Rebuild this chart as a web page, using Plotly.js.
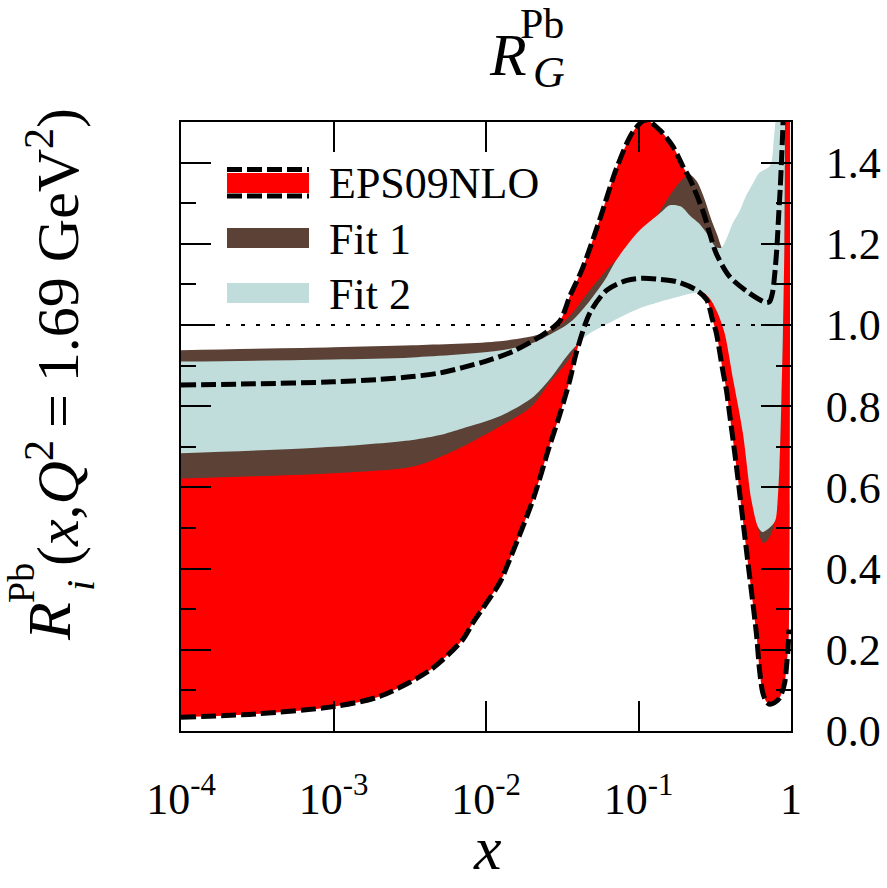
<!DOCTYPE html>
<html>
<head>
<meta charset="utf-8">
<script src="https://cdn.plot.ly/plotly-3.0.1.min.js"></script>
<style>html,body{margin:0;padding:0;background:#fff;}#chart{width:887px;height:888px;}</style>
</head>
<body>
<div id="chart"></div>
<script>
// ---- EPS09NLO uncertainty band (upper / lower edges) ----
const epsUpX = [1e-4, 3e-4, 1e-3, 2e-3, 3.3e-3, 5e-3, 7e-3, 0.0106, 0.015, 0.0225, 0.0305, 0.0354, 0.043, 0.0557, 0.0716, 0.0916, 0.111, 0.138, 0.168, 0.196, 0.217, 0.265, 0.323, 0.396, 0.536, 0.689, 0.725, 0.757, 0.78, 0.809, 0.83, 0.851, 0.87, 0.885, 0.92, 0.97];
const epsUpY = [0.852, 0.855, 0.86, 0.866, 0.873, 0.882, 0.895, 0.914, 0.935, 0.971, 1.01, 1.07, 1.14, 1.26, 1.385, 1.475, 1.505, 1.48, 1.44, 1.39, 1.36, 1.28, 1.177, 1.119, 1.078, 1.055, 1.058, 1.08, 1.12, 1.193, 1.27, 1.34, 1.42, 1.49, 1.75, 2.1];
const epsLoX = [1e-4, 3.1e-4, 1e-3, 2e-3, 4.3e-3, 7e-3, 0.0082, 0.0123, 0.0137, 0.0203, 0.026, 0.0305, 0.0355, 0.039, 0.048, 0.062, 0.084, 0.106, 0.132, 0.177, 0.24, 0.28, 0.306, 0.324, 0.356, 0.377, 0.396, 0.439, 0.51, 0.593, 0.622, 0.652, 0.69, 0.724, 0.78, 0.841, 0.908, 0.94, 0.955, 0.97];
const epsLoY = [0.034, 0.042, 0.06, 0.085, 0.15, 0.224, 0.266, 0.365, 0.405, 0.569, 0.70, 0.78, 0.865, 0.93, 1.03, 1.086, 1.11, 1.115, 1.113, 1.107, 1.086, 1.062, 1.012, 0.98, 0.89, 0.84, 0.78, 0.651, 0.446, 0.24, 0.15, 0.095, 0.072, 0.066, 0.07, 0.081, 0.118, 0.17, 0.2, 0.25];

// ---- Fit 1 band ----
const fit1UpX = [1e-4, 1e-3, 3.3e-3, 0.0123, 0.0225, 0.0305, 0.037, 0.048, 0.06, 0.0716, 0.1, 0.138, 0.168, 0.196, 0.217, 0.24, 0.265, 0.30, 0.33, 0.349, 0.38, 0.45, 0.55, 0.65, 0.75, 0.82, 0.88, 0.91];
const fit1UpY = [0.938, 0.945, 0.95, 0.96, 0.977, 1.0, 1.03, 1.086, 1.13, 1.16, 1.2, 1.28, 1.33, 1.36, 1.37, 1.355, 1.32, 1.26, 1.22, 1.193, 1.17, 1.18, 1.28, 1.33, 1.36, 1.45, 1.6, 1.8];
const fit1LoX = [1e-4, 1e-3, 3.3e-3, 5e-3, 7e-3, 0.0123, 0.02, 0.026, 0.035, 0.046, 0.07, 0.1, 0.15, 0.2, 0.24, 0.265, 0.30, 0.33, 0.367, 0.42, 0.484, 0.55, 0.6, 0.63, 0.66, 0.70, 0.75, 0.78, 0.80, 0.84, 0.865, 0.885, 0.905, 0.915];
const fit1LoY = [0.622, 0.635, 0.651, 0.675, 0.70, 0.75, 0.80, 0.857, 0.915, 1.0, 1.04, 1.07, 1.09, 1.1, 1.105, 1.1, 1.09, 1.06, 1.0, 0.89, 0.76, 0.59, 0.515, 0.475, 0.463, 0.47, 0.49, 0.52, 0.56, 0.66, 0.83, 0.99, 1.21, 1.6];

// ---- Fit 2 band ----
const fit2UpX = [1e-4, 1e-3, 3.3e-3, 0.0123, 0.02, 0.0305, 0.037, 0.048, 0.06, 0.0716, 0.1, 0.138, 0.16, 0.19, 0.217, 0.25, 0.28, 0.32, 0.349, 0.38, 0.414, 0.46, 0.51, 0.565, 0.62, 0.69, 0.72, 0.745, 0.765, 0.79, 0.82, 0.915];
const fit2UpY = [0.91, 0.915, 0.92, 0.937, 0.955, 0.99, 1.012, 1.06, 1.11, 1.16, 1.23, 1.275, 1.295, 1.292, 1.27, 1.25, 1.226, 1.193, 1.19, 1.215, 1.25, 1.28, 1.32, 1.35, 1.375, 1.385, 1.39, 1.40, 1.44, 1.50, 1.56, 1.8];
const fit2LoX = [1e-4, 1e-3, 3.3e-3, 5e-3, 7e-3, 0.0123, 0.02, 0.026, 0.035, 0.046, 0.068, 0.1, 0.14, 0.18, 0.24, 0.27, 0.30, 0.33, 0.367, 0.42, 0.484, 0.55, 0.607, 0.65, 0.72, 0.78, 0.80, 0.84, 0.865, 0.885, 0.905, 0.915];
const fit2LoY = [0.684, 0.70, 0.717, 0.729, 0.745, 0.775, 0.82, 0.865, 0.93, 0.975, 1.01, 1.04, 1.058, 1.069, 1.08, 1.078, 1.06, 1.03, 0.98, 0.86, 0.733, 0.569, 0.503, 0.49, 0.50, 0.515, 0.528, 0.651, 0.815, 0.98, 1.2, 1.6];

// ---- reference line and ticks ----
const refX = [1e-4, 1];
const refY = [1, 1];
const xTickVals = [1e-4, 1e-3, 1e-2, 1e-1, 1];
const xTickText = ['10<sup>-4</sup>', '10<sup>-3</sup>', '10<sup>-2</sup>', '10<sup>-1</sup>', '1'];
const legendNames = ['EPS09NLO', 'Fit 1', 'Fit 2'];

const RED = '#ff0000', BROWN = '#5c4236', BLUE = '#c0dcdb';
const FONT = '"Liberation Serif", "Times New Roman", Times, serif';

function poly(xu, yu, xl, yl) {
  return { x: xu.concat(xl.slice().reverse()), y: yu.concat(yl.slice().reverse()) };
}
const pE = poly(epsUpX, epsUpY, epsLoX, epsLoY);
const p1 = poly(fit1UpX, fit1UpY, fit1LoX, fit1LoY);
const p2 = poly(fit2UpX, fit2UpY, fit2LoX, fit2LoY);

const band = (p, col, name) => ({
  x: p.x, y: p.y, type: 'scatter', mode: 'lines', fill: 'toself', fillcolor: col,
  line: { width: 0, color: 'rgba(0,0,0,0)', shape: 'spline', smoothing: 0.8 }, name: name, showlegend: false, hoverinfo: 'skip'
});
const dashed = (x, y) => ({
  x: x, y: y, type: 'scatter', mode: 'lines', showlegend: false, hoverinfo: 'skip',
  line: { color: '#000', width: 5, dash: '15px,5px', shape: 'spline', smoothing: 0.8 }
});

const data = [
  band(pE, RED, legendNames[0]),
  band(p1, BROWN, legendNames[1]),
  band(p2, BLUE, legendNames[2]),
  dashed(epsUpX, epsUpY),
  dashed(epsLoX, epsLoY),
  { x: refX, y: refY, type: 'scatter', mode: 'lines', showlegend: false, hoverinfo: 'skip',
    line: { color: '#000', width: 1.8, dash: '4px,11px' } }
];

// pixel helpers for annotation / legend placement in paper coords
const L = 181, T = 122, W = 610, H = 609;
const px = v => (v - L) / W;
const py = v => (T + H - v) / H;

const ann = (x, y, text, size, extra) => Object.assign({
  xref: 'paper', yref: 'paper', x: px(x), y: py(y), text: text, showarrow: false,
  xanchor: 'center', yanchor: 'middle', font: { family: FONT, size: size, color: '#000' }
}, extra || {});

const annotations = [
  // title R_G^Pb
  ann(508, 55, '<i>R</i>', 60),
  ann(549, 72, '<i>G</i>', 44),
  ann(542, 24, 'Pb', 42),
  // x-axis title
  ann(487, 848, '<i>x</i>', 62),
  // y-axis title (rotated)
  ann(53, 337, '(<i>x</i>,<i>Q</i><sup>2</sup>\u2009=\u20091.69 GeV<sup>2</sup>)', 60, { textangle: -90 }),
  ann(49, 622, '<i>R</i>', 62, { textangle: -90 }),
  ann(21, 583, 'Pb', 38, { textangle: -90 }),
  ann(80, 586, '<i>i</i>', 40, { textangle: -90 }),
  // legend labels
  ann(327, 183, legendNames[0], 44, { xanchor: 'left' }),
  ann(327, 239, legendNames[1], 44, { xanchor: 'left' }),
  ann(327, 294, legendNames[2], 44, { xanchor: 'left' })
];

const rect = (x0, y0, x1, y1, col) => ({
  type: 'rect', xref: 'paper', yref: 'paper', x0: px(x0), x1: px(x1), y0: py(y1), y1: py(y0),
  fillcolor: col, line: { width: 0 }
});
const hline = (x0, x1, y) => ({
  type: 'line', xref: 'paper', yref: 'paper', x0: px(x0), x1: px(x1), y0: py(y), y1: py(y),
  line: { color: '#000', width: 5, dash: '15px,5px' }
});
const shapes = [
  rect(227, 173, 309, 193, RED),
  hline(227, 309, 169.5),
  hline(227, 309, 196),
  rect(227, 228, 309, 248, BROWN),
  rect(227, 283, 309, 303, BLUE)
];

const layout = {
  width: 887, height: 888,
  margin: { l: L, r: 887 - L - W, t: T, b: 888 - T - H, pad: 0 },
  paper_bgcolor: '#fff', plot_bgcolor: '#fff',
  showlegend: false,
  font: { family: FONT, size: 44, color: '#000' },
  xaxis: {
    type: 'log', range: [-4, 0], tickmode: 'array', tickvals: xTickVals, ticktext: xTickText,
    ticks: 'inside', ticklen: 30, tickwidth: 2, tickcolor: '#000',
    showline: true, linewidth: 2, linecolor: '#000', mirror: 'allticks',
    showgrid: false, zeroline: false, ticklabelstandoff: 28,
    tickfont: { family: FONT, size: 44, color: '#000' }
  },
  yaxis: {
    range: [0, 1.5], side: 'right', tick0: 0, dtick: 0.2, tickformat: '.1f',
    ticks: 'inside', ticklen: 30, tickwidth: 2, tickcolor: '#000',
    minor: { tick0: 0, dtick: 0.1, ticks: 'inside', ticklen: 15, tickwidth: 2, tickcolor: '#000' },
    showline: true, linewidth: 2, linecolor: '#000', mirror: 'allticks',
    showgrid: false, zeroline: false, ticklabelstandoff: 24,
    tickfont: { family: FONT, size: 44, color: '#000' }
  },
  annotations: annotations,
  shapes: shapes
};

Plotly.newPlot('chart', data, layout, { staticPlot: true, displayModeBar: false });
</script>
</body>
</html>
